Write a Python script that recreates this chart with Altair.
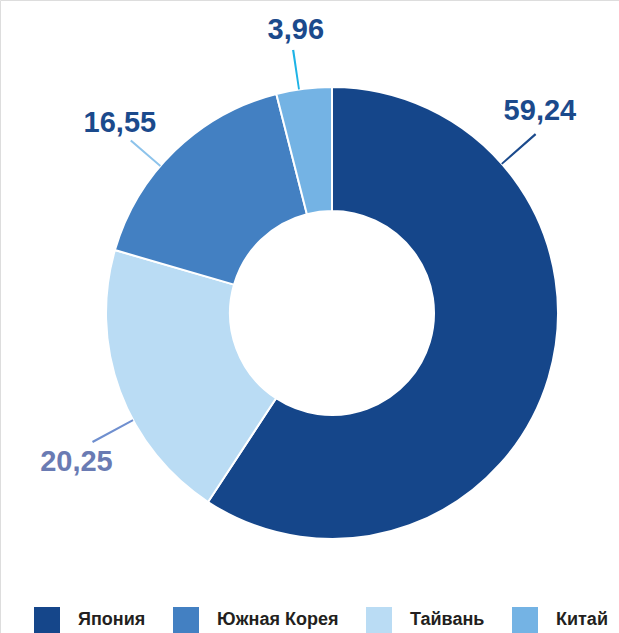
import altair as alt
import pandas as pd

# ---- data ----
categories = ["Япония", "Тайвань", "Южная Корея", "Китай"]   # clockwise order from 12 o'clock
values = [59.24, 20.25, 16.55, 3.96]
label_texts = ["59,24", "20,25", "16,55", "3,96"]
legend_order = ["Япония", "Южная Корея", "Тайвань", "Китай"]

# ---- styles / layout ----
slice_colors = {"Япония": "#15468A", "Южная Корея": "#4380C2", "Тайвань": "#BADCF4", "Китай": "#74B3E4"}
label_colors = {"Япония": "#1B4A8C", "Южная Корея": "#1B4A8C", "Тайвань": "#6A7BB3", "Китай": "#1B4A8C"}
leader_colors = {"Япония": "#1B4A8C", "Южная Корея": "#8DC3EB", "Тайвань": "#6F8FCF", "Китай": "#1DB3E6"}
# label anchor angles (degrees, clockwise from top) and radii in px
leader_angle = {"Япония": 48.7, "Южная Корея": 310.6, "Тайвань": 241.7, "Китай": 351.6}
leader_r_out = {"Япония": 271, "Южная Корея": 265, "Тайвань": 272, "Китай": 266}
label_angle = {"Япония": 45.8, "Южная Корея": 311.9, "Тайвань": 239.7, "Китай": 352.7}
label_radius = {"Япония": 290, "Южная Корея": 285, "Тайвань": 296, "Китай": 285}
CX, CY = 332, 313
R_OUT, R_IN = 226, 102

df = pd.DataFrame({"cat": categories, "value": values, "ord": list(range(len(categories)))})

lab = pd.DataFrame({
    "cat": categories,
    "text": label_texts,
    "a": [label_angle[c] / 3.6 for c in categories],
    "r": [label_radius[c] for c in categories],
    "col": [label_colors[c] for c in categories],
})
lead = pd.DataFrame({
    "cat": categories,
    "a1": [leader_angle[c] / 3.6 - 0.065 for c in categories],
    "a2": [leader_angle[c] / 3.6 + 0.065 for c in categories],
    "r1": [R_OUT for c in categories],
    "r2": [leader_r_out[c] for c in categories],
    "col": [leader_colors[c] for c in categories],
})

theta_scale = alt.Scale(domain=[0, 100])
rad_scale = alt.Scale(type="linear", domain=[0, 400], range=[0, 400], zero=True)

donut = alt.Chart(df).mark_arc(
    outerRadius=R_OUT, innerRadius=R_IN, stroke="white", strokeWidth=2
).encode(
    x=alt.value(CX), y=alt.value(CY),
    theta=alt.Theta("value:Q", stack=True, scale=theta_scale),
    order=alt.Order("ord:Q"),
    color=alt.Color(
        "cat:N",
        scale=alt.Scale(domain=legend_order, range=[slice_colors[c] for c in legend_order]),
        legend=alt.Legend(
            title=None, orient="none", legendX=34, legendY=607, direction="horizontal",
            symbolType="square", symbolSize=676, symbolStrokeWidth=0, symbolOpacity=1,
            labelFont="Liberation Sans", labelFontSize=18, labelFontWeight="bold",
            labelColor="#231F20", labelOffset=18, columnPadding=27, padding=0,
            labelLimit=300,
        ),
    ),
)

leaders = alt.Chart(lead).mark_arc(padAngle=0).encode(
    x=alt.value(CX), y=alt.value(CY),
    theta=alt.Theta("a1:Q", stack=False, scale=theta_scale),
    theta2="a2:Q",
    radius=alt.Radius("r2:Q", scale=rad_scale),
    radius2="r1:Q",
    fill=alt.Fill("col:N", scale=None),
)

labels = alt.Chart(lab).mark_text(
    font="Liberation Sans", fontSize=29, fontWeight="bold", baseline="middle", align="center"
).encode(
    x=alt.value(CX), y=alt.value(CY),
    theta=alt.Theta("a:Q", stack=False, scale=theta_scale),
    radius=alt.Radius("r:Q", scale=rad_scale),
    text="text:N",
    color=alt.Color("col:N", scale=None),
)

chart = alt.layer(donut, leaders, labels).properties(
    width=619, height=633, autosize=alt.AutoSizeParams(type="none"), padding=0
).configure_view(stroke=None).configure(background="white")

chart.save("out.html", embed_options={"renderer": "svg", "actions": False})
